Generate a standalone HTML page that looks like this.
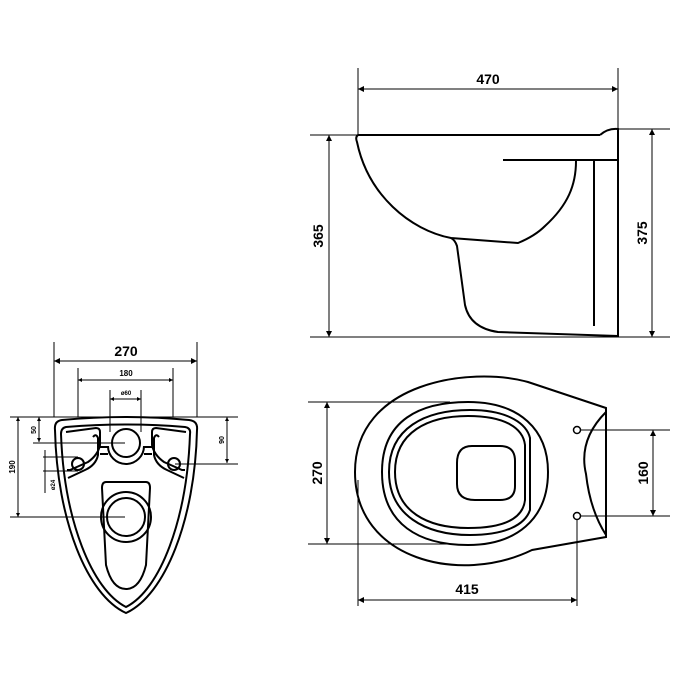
<!DOCTYPE html>
<html><head><style>html,body{margin:0;padding:0;background:#fff}svg{display:block}</style></head>
<body>
<svg width="700" height="700" viewBox="0 0 700 700" xmlns="http://www.w3.org/2000/svg" font-family="Liberation Sans, sans-serif" font-weight="bold">
<defs>
<marker id="a" viewBox="0 0 10 10" refX="10" refY="5" markerWidth="9" markerHeight="6" orient="auto-start-reverse" markerUnits="userSpaceOnUse"><path d="M0,0 L10,5 L0,10 Z" fill="#000"/></marker>
<marker id="s" viewBox="0 0 10 10" refX="10" refY="5" markerWidth="6" markerHeight="4" orient="auto-start-reverse" markerUnits="userSpaceOnUse"><path d="M0,0 L10,5 L0,10 Z" fill="#000"/></marker>
</defs>
<g stroke="#000" fill="none" stroke-width="1">
<line x1="358" y1="68" x2="358" y2="135"/>
<line x1="618" y1="68" x2="618" y2="129"/>
<line x1="358" y1="89" x2="618" y2="89" marker-start="url(#a)" marker-end="url(#a)"/>
<line x1="310" y1="135" x2="600" y2="135"/>
<line x1="618" y1="129" x2="670" y2="129"/>
<line x1="310" y1="337" x2="670" y2="337"/>
<line x1="329" y1="135" x2="329" y2="337" marker-start="url(#a)" marker-end="url(#a)"/>
<line x1="652" y1="129" x2="652" y2="337" marker-start="url(#a)" marker-end="url(#a)"/>
</g>
<g stroke="#000" fill="none" stroke-width="2">
<path d="M600,135 L358,135 Q355,137 357,142 C368,195 410,230 451,238 L518,243 Q535,236 545,226 C568,205 576,185 576,161"/>
<line x1="503" y1="160" x2="618" y2="160"/>
<line x1="594" y1="161" x2="594" y2="326"/>
<path d="M451,238 Q455,240 457,246 L465,305 Q470,328 498,332 L618,336 L618,129 Q608,128 600,135"/>
</g>
<text x="488" y="84" font-size="14" text-anchor="middle">470</text>
<text transform="translate(323,236) rotate(-90)" font-size="14" text-anchor="middle">365</text>
<text transform="translate(647,233) rotate(-90)" font-size="14" text-anchor="middle">375</text>

<g stroke="#000" fill="none" stroke-width="1">
<line x1="308" y1="402" x2="450" y2="402"/>
<line x1="308" y1="544" x2="450" y2="544"/>
<line x1="327" y1="402" x2="327" y2="544" marker-start="url(#a)" marker-end="url(#a)"/>
<line x1="580" y1="430" x2="670" y2="430"/>
<line x1="580" y1="516" x2="670" y2="516"/>
<line x1="653" y1="430" x2="653" y2="516" marker-start="url(#a)" marker-end="url(#a)"/>
<line x1="358" y1="480" x2="358" y2="606"/>
<line x1="577" y1="520" x2="577" y2="606"/>
<line x1="358" y1="600" x2="577" y2="600" marker-start="url(#a)" marker-end="url(#a)"/>
</g>
<g stroke="#000" fill="none" stroke-width="2">
<path d="M606,408 L528,382 C470,366 355,382 355,472 C355,560 460,585 532,550 L606,537 Z"/>
<path d="M606,412 Q578,440 586,474 Q590,510 606,535"/>
<path d="M382,472 C382,420 420,402 468,402 C520,402 548,430 548,472 C548,520 515,545 468,545 C420,545 382,525 382,472 Z"/>
<path d="M389,472 C389,428 425,410 470,410 C510,410 527,425 530,438 L530,510 C525,525 505,535 470,535 C425,535 389,515 389,472 Z"/>
<path d="M395,472 C395,432 428,416 468,416 C505,416 523,428 525,445 L525,500 C523,518 505,528 468,528 C428,528 395,512 395,472 Z"/>
<path d="M472,446 L500,446 Q515,446 515,461 L515,486 Q515,500 500,500 L475,500 Q457,500 457,484 L457,463 Q457,446 472,446 Z"/>
</g>
<circle cx="577" cy="430" r="3.5" stroke="#000" stroke-width="1.5" fill="none"/>
<circle cx="577" cy="516" r="3.5" stroke="#000" stroke-width="1.5" fill="none"/>
<text transform="translate(322,473) rotate(-90)" font-size="14" text-anchor="middle">270</text>
<text transform="translate(648,473) rotate(-90)" font-size="14" text-anchor="middle">160</text>
<text x="467" y="594" font-size="14" text-anchor="middle">415</text>

<g stroke="#000" fill="none" stroke-width="1">
<line x1="54" y1="342" x2="54" y2="417"/>
<line x1="197" y1="342" x2="197" y2="417"/>
<line x1="54" y1="361" x2="197" y2="361" marker-start="url(#a)" marker-end="url(#a)"/>
<line x1="78" y1="368" x2="78" y2="417"/>
<line x1="173" y1="368" x2="173" y2="417"/>
<line x1="78" y1="380" x2="173" y2="380" marker-start="url(#s)" marker-end="url(#s)"/>
<line x1="110" y1="390" x2="110" y2="432"/>
<line x1="141" y1="390" x2="141" y2="432"/>
<line x1="110" y1="399" x2="141" y2="399" marker-start="url(#s)" marker-end="url(#s)"/>
<line x1="10" y1="417" x2="238" y2="417"/>
<line x1="18" y1="417" x2="18" y2="517" marker-start="url(#s)" marker-end="url(#s)"/>
<line x1="10" y1="517" x2="125" y2="517"/>
<line x1="39" y1="417" x2="39" y2="442" marker-start="url(#s)" marker-end="url(#s)"/>
<line x1="33" y1="443" x2="125" y2="443"/>
<line x1="43" y1="457" x2="78" y2="457"/>
<line x1="43" y1="471" x2="78" y2="471"/>
<line x1="45" y1="450" x2="45" y2="493"/>
<line x1="227" y1="417" x2="227" y2="463" marker-start="url(#s)" marker-end="url(#s)"/>
<line x1="175" y1="464" x2="238" y2="464"/>
</g>
<g stroke="#000" fill="none" stroke-width="2">
<path d="M62,420 Q126,414 189,420 Q198,421 197,430 C195,520 165,595 126,613 C87,595 57,520 55,430 Q54,421 62,420 Z"/>
<path d="M66,427 Q126,422 185,427 Q191,428 190,434 C187,520 160,590 126,607 C92,590 64,520 61,434 Q61,428 66,427 Z"/>
<path d="M66,432 L96,428 Q100,428 100,432 L100,445 Q98,455 88,462 L70,470 L67,470"/>
<path d="M186,432 L156,428 Q152,428 152,432 L152,445 Q154,455 164,462 L182,470 L185,470"/>
<path d="M93,437 Q96,433 98,438 L98,455 Q96,465 85,470 L68,478"/>
<path d="M159,437 Q156,433 154,438 L154,455 Q156,465 167,470 L184,478"/>
<line x1="98" y1="447" x2="108" y2="447"/>
<line x1="144" y1="447" x2="154" y2="447"/>
<line x1="100" y1="454" x2="108" y2="454"/>
<line x1="144" y1="454" x2="152" y2="454"/>
<circle cx="126" cy="443" r="14"/>
<path d="M108,446 A18,18 0 0 0 144,446"/>
<circle cx="78" cy="464" r="6"/>
<circle cx="174" cy="464" r="6"/>
<path d="M106,482 L146,482 Q150,482 150,488 L146,565 Q140,589 126,589 Q112,589 106,565 L102,488 Q102,482 106,482 Z"/>
<circle cx="126" cy="517" r="25"/>
<circle cx="126" cy="517" r="19"/>
</g>
<text x="126" y="356" font-size="14" text-anchor="middle">270</text>
<text x="126" y="376" font-size="8" text-anchor="middle">180</text>
<text x="126" y="395" font-size="6" text-anchor="middle">ø60</text>
<text transform="translate(15,467) rotate(-90)" font-size="8" text-anchor="middle">190</text>
<text transform="translate(36,430) rotate(-90)" font-size="7" text-anchor="middle">50</text>
<text transform="translate(55,485) rotate(-90)" font-size="6" text-anchor="middle">ø24</text>
<text transform="translate(224,440) rotate(-90)" font-size="7" text-anchor="middle">90</text>
</svg>
</body></html>
